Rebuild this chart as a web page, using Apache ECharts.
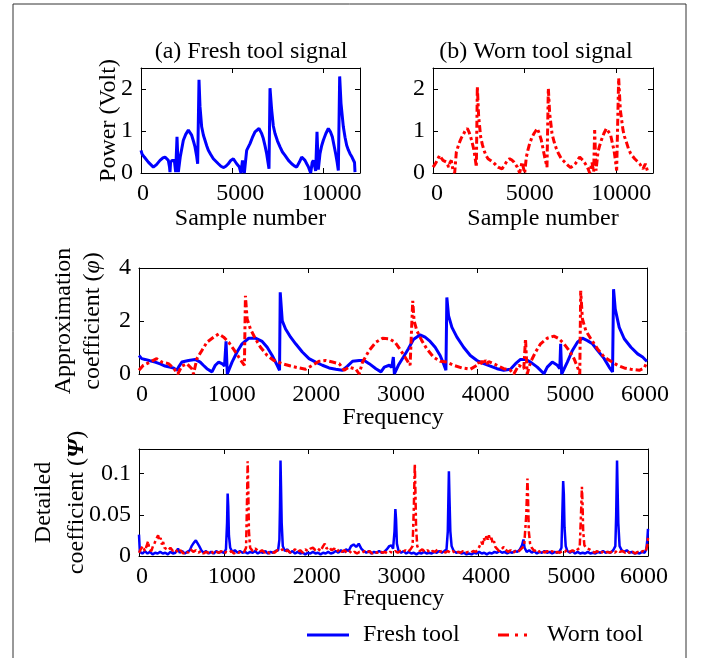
<!DOCTYPE html>
<html><head><meta charset="utf-8">
<script src="https://cdn.jsdelivr.net/npm/echarts@6/dist/echarts.min.js"></script>
<style>html,body{margin:0;padding:0;background:#fff}#c{width:704px;height:658px}</style>
</head><body><div id="c"></div>
<script>
// ---------- data ----------
const freshSignal = [[0,0.54],[60,0.45],[180,0.38],[400,0.26],[676,0.14],[850,0.2],[1041,0.30],[1200,0.36],[1315,0.38],[1420,0.34],[1498,0.30],[1560,0.15],[1589,0.02],[1620,0.25],[1700,0.30],[1826,0.30],[1900,0.02],[1973,0.86],[2046,0.02],[2150,0.38],[2320,0.78],[2450,0.92],[2594,1.02],[2680,0.98],[2776,0.90],[2880,0.75],[2959,0.62],[3050,0.40],[3105,0.22],[3178,2.22],[3233,1.58],[3324,1.10],[3420,0.90],[3507,0.78],[3600,0.65],[3689,0.54],[3820,0.44],[3963,0.34],[4100,0.28],[4237,0.22],[4380,0.16],[4511,0.13],[4650,0.16],[4785,0.22],[4920,0.30],[5059,0.34],[5150,0.30],[5242,0.22],[5380,0.15],[5479,0.0],[5560,0.30],[5662,0.0],[5790,0.54],[5973,0.70],[6100,0.84],[6247,0.98],[6466,1.06],[6600,0.95],[6703,0.82],[6800,0.64],[6886,0.46],[6960,0.25],[7014,0.10],[7069,2.02],[7160,1.50],[7250,1.12],[7343,0.94],[7480,0.76],[7617,0.62],[7750,0.50],[7890,0.42],[8080,0.30],[8256,0.22],[8400,0.17],[8530,0.14],[8680,0.26],[8804,0.38],[8900,0.35],[8986,0.30],[9080,0.22],[9169,0.15],[9297,0.0],[9380,0.25],[9443,0.30],[9520,0.15],[9571,0.05],[9644,0.98],[9717,0.08],[9808,0.46],[9900,0.65],[9991,0.78],[10130,0.94],[10265,1.06],[10380,0.98],[10484,0.86],[10580,0.65],[10667,0.46],[10750,0.25],[10813,0.06],[10886,2.30],[10959,1.66],[11087,1.10],[11180,0.85],[11269,0.66],[11360,0.55],[11452,0.46],[11560,0.38],[11635,0.34],[11700,0.25],[11726,0.02]];

const wornSignal = [[0,0.14],[100,0.2],[182,0.26],[280,0.35],[364,0.42],[450,0.36],[545,0.30],[640,0.28],[727,0.26],[800,0.2],[855,0.14],[930,0.25],[1000,0.30],[1091,0.06],[1182,0.0],[1273,0.50],[1360,0.62],[1455,0.74],[1550,0.84],[1636,0.90],[1750,1.0],[1873,1.06],[1960,0.98],[2055,0.86],[2150,0.70],[2236,0.54],[2300,0.35],[2364,0.14],[2418,2.06],[2491,1.34],[2600,0.86],[2690,0.68],[2782,0.54],[2890,0.42],[3000,0.34],[3140,0.30],[3273,0.26],[3410,0.20],[3545,0.14],[3650,0.12],[3764,0.10],[3860,0.16],[3945,0.22],[4060,0.30],[4182,0.34],[4300,0.31],[4418,0.26],[4510,0.2],[4600,0.14],[4727,0.0],[4855,0.26],[5000,0.0],[5091,0.38],[5180,0.55],[5273,0.70],[5390,0.84],[5509,0.94],[5600,1.0],[5691,1.06],[5800,0.94],[5909,0.78],[6000,0.58],[6091,0.38],[6160,0.25],[6218,0.14],[6291,2.02],[6364,1.42],[6491,0.94],[6600,0.75],[6727,0.58],[6860,0.45],[7000,0.34],[7140,0.28],[7273,0.22],[7390,0.17],[7509,0.13],[7640,0.17],[7764,0.22],[7880,0.30],[8000,0.38],[8100,0.34],[8182,0.30],[8280,0.24],[8364,0.18],[8460,0.10],[8545,0.0],[8673,0.25],[8764,0.03],[8818,1.02],[8891,0.06],[9000,0.50],[9090,0.65],[9182,0.78],[9320,0.94],[9455,1.06],[9580,0.98],[9691,0.90],[9780,0.72],[9873,0.54],[9950,0.30],[10018,0.06],[10127,2.26],[10218,1.50],[10364,1.02],[10450,0.86],[10545,0.74],[10660,0.58],[10782,0.46],[10890,0.40],[11000,0.34],[11140,0.28],[11273,0.22],[11360,0.16],[11455,0.10],[11582,0.22],[11691,0.06]];

const freshApprox = [[0,0.70],[32,0.58],[71,0.55],[130,0.50],[190,0.45],[250,0.38],[308,0.30],[360,0.26],[407,0.23],[447,0.14],[475,0.3],[506,0.45],[585,0.51],[664,0.55],[723,0.45],[760,0.33],[802,0.20],[862,0.08],[901,0.33],[941,0.45],[985,0.38],[1010,0.30],[1028,1.23],[1043,0.0],[1099,0.45],[1158,0.83],[1217,1.14],[1296,1.35],[1375,1.35],[1455,1.23],[1514,1.01],[1573,0.70],[1632,0.33],[1660,0.14],[1668,3.08],[1692,2.01],[1731,1.70],[1791,1.39],[1850,1.14],[1929,0.83],[2008,0.58],[2087,0.45],[2166,0.33],[2245,0.23],[2324,0.18],[2403,0.14],[2462,0.30],[2522,0.48],[2601,0.51],[2660,0.51],[2719,0.39],[2798,0.20],[2858,0.08],[2897,0.26],[2956,0.33],[2985,0.25],[3004,0.64],[3016,0.0],[3063,0.33],[3123,0.64],[3182,0.95],[3241,1.30],[3320,1.48],[3379,1.39],[3439,1.23],[3498,1.01],[3557,0.70],[3597,0.39],[3625,0.14],[3636,2.89],[3656,2.20],[3696,1.76],[3755,1.39],[3834,1.01],[3913,0.70],[3992,0.51],[4071,0.39],[4150,0.30],[4229,0.20],[4308,0.14],[4387,0.18],[4447,0.39],[4506,0.55],[4565,0.55],[4625,0.45],[4704,0.26],[4783,0.01],[4822,0.26],[4881,0.45],[4941,0.33],[4970,0.20],[4980,1.14],[4992,0.0],[5059,0.45],[5119,0.89],[5178,1.20],[5237,1.35],[5296,1.26],[5356,1.14],[5415,0.89],[5494,0.58],[5553,0.26],[5593,0.08],[5605,3.20],[5625,2.45],[5672,1.76],[5731,1.33],[5810,1.01],[5889,0.76],[5948,0.64],[5988,0.51],[6000,0.48]];

const wornApprox = [[0,0.14],[51,0.33],[130,0.45],[209,0.58],[269,0.45],[348,0.39],[407,0.23],[458,0.0],[506,0.30],[565,0.39],[625,0.20],[644,0.0],[684,0.58],[743,0.89],[802,1.20],[881,1.39],[941,1.51],[1000,1.39],[1059,1.20],[1119,0.93],[1178,0.64],[1217,0.45],[1245,0.33],[1257,2.95],[1277,2.08],[1316,1.70],[1375,1.33],[1435,1.01],[1514,0.70],[1593,0.51],[1692,0.39],[1791,0.30],[1889,0.23],[1968,0.18],[2047,0.33],[2126,0.48],[2206,0.51],[2285,0.45],[2364,0.39],[2423,0.14],[2482,0.26],[2561,0.18],[2601,0.0],[2640,0.45],[2719,0.89],[2798,1.20],[2877,1.35],[2956,1.33],[3024,1.20],[3083,0.93],[3142,0.64],[3202,0.33],[3221,0.30],[3233,2.76],[3249,2.01],[3281,1.64],[3340,1.26],[3399,0.95],[3478,0.64],[3557,0.48],[3636,0.45],[3715,0.33],[3814,0.23],[3913,0.18],[3992,0.33],[4010,0.45],[4030,0.32],[4050,0.50],[4070,0.36],[4090,0.52],[4110,0.38],[4130,0.47],[4150,0.40],[4229,0.33],[4308,0.20],[4387,0.14],[4427,0.0],[4486,0.33],[4545,0.20],[4565,1.33],[4585,0.0],[4625,0.45],[4684,0.83],[4743,1.14],[4822,1.35],[4901,1.43],[4960,1.33],[5020,1.14],[5079,0.89],[5138,0.58],[5186,0.20],[5206,0.0],[5217,3.14],[5237,2.08],[5277,1.64],[5336,1.33],[5415,0.95],[5494,0.64],[5573,0.48],[5652,0.33],[5731,0.23],[5810,0.18],[5909,0.14],[5968,0.23],[6000,0.45]];

const freshDetail = [[0,0.026],[10,0.005],[40,0.003],[70,0.006],[100,0.003],[130,0.005],[160,0.002],[190,0.004],[220,0.003],[250,0.005],[280,0.003],[310,0.004],[340,0.002],[370,0.005],[400,0.003],[430,0.004],[460,0.009],[480,0.004],[510,0.006],[540,0.003],[570,0.005],[600,0.007],[620,0.012],[645,0.016],[670,0.019],[690,0.017],[710,0.012],[735,0.007],[760,0.004],[790,0.006],[820,0.003],[850,0.005],[880,0.003],[910,0.006],[940,0.004],[970,0.005],[1000,0.004],[1025,0.008],[1038,0.04],[1045,0.076],[1052,0.06],[1060,0.025],[1075,0.01],[1100,0.005],[1130,0.007],[1160,0.004],[1190,0.006],[1220,0.004],[1250,0.005],[1280,0.003],[1310,0.005],[1340,0.004],[1370,0.006],[1400,0.003],[1430,0.005],[1460,0.004],[1490,0.006],[1520,0.003],[1550,0.005],[1580,0.004],[1610,0.006],[1640,0.007],[1655,0.02],[1662,0.06],[1668,0.116],[1674,0.085],[1682,0.04],[1695,0.012],[1720,0.006],[1750,0.008],[1780,0.004],[1810,0.006],[1840,0.003],[1870,0.005],[1900,0.003],[1930,0.004],[1960,0.002],[1990,0.004],[2020,0.003],[2050,0.005],[2080,0.003],[2110,0.004],[2140,0.002],[2170,0.004],[2200,0.003],[2230,0.005],[2260,0.003],[2290,0.004],[2320,0.006],[2350,0.004],[2380,0.007],[2410,0.005],[2440,0.008],[2470,0.006],[2500,0.012],[2530,0.014],[2560,0.011],[2590,0.015],[2620,0.009],[2650,0.006],[2680,0.004],[2710,0.006],[2740,0.003],[2770,0.005],[2800,0.004],[2830,0.006],[2860,0.004],[2890,0.005],[2920,0.008],[2950,0.012],[2975,0.013],[2995,0.009],[3012,0.03],[3022,0.057],[3030,0.045],[3040,0.015],[3060,0.006],[3090,0.004],[3120,0.006],[3150,0.003],[3180,0.005],[3210,0.003],[3240,0.004],[3270,0.002],[3300,0.004],[3330,0.003],[3360,0.005],[3390,0.003],[3420,0.004],[3450,0.003],[3480,0.005],[3510,0.004],[3540,0.006],[3570,0.004],[3600,0.006],[3625,0.008],[3640,0.03],[3653,0.103],[3660,0.07],[3670,0.03],[3685,0.012],[3710,0.006],[3740,0.004],[3770,0.005],[3800,0.003],[3830,0.004],[3860,0.002],[3890,0.003],[3920,0.002],[3950,0.004],[3980,0.003],[4010,0.005],[4040,0.003],[4070,0.004],[4100,0.002],[4130,0.004],[4160,0.003],[4190,0.005],[4220,0.004],[4250,0.006],[4280,0.004],[4310,0.005],[4340,0.003],[4370,0.005],[4400,0.004],[4430,0.006],[4460,0.005],[4490,0.008],[4515,0.013],[4532,0.02],[4545,0.01],[4570,0.005],[4600,0.007],[4630,0.004],[4660,0.006],[4690,0.003],[4720,0.005],[4750,0.004],[4780,0.006],[4810,0.004],[4840,0.005],[4870,0.003],[4900,0.005],[4930,0.004],[4960,0.006],[4980,0.01],[4990,0.05],[5000,0.091],[5008,0.075],[5016,0.035],[5030,0.012],[5050,0.006],[5080,0.004],[5110,0.006],[5140,0.003],[5170,0.005],[5200,0.003],[5230,0.004],[5260,0.003],[5290,0.005],[5320,0.003],[5350,0.004],[5380,0.003],[5410,0.005],[5440,0.004],[5470,0.006],[5500,0.004],[5530,0.005],[5560,0.004],[5590,0.007],[5615,0.012],[5625,0.05],[5635,0.116],[5642,0.08],[5650,0.04],[5665,0.012],[5690,0.007],[5720,0.005],[5750,0.007],[5780,0.004],[5810,0.005],[5840,0.003],[5870,0.004],[5900,0.003],[5930,0.005],[5960,0.004],[5980,0.008],[5992,0.02],[6000,0.033]];

const wornDetail = [[0,0.004],[20,0.008],[45,0.012],[70,0.006],[95,0.014],[107,0.018],[120,0.009],[145,0.006],[165,0.012],[185,0.016],[205,0.021],[225,0.025],[240,0.019],[255,0.022],[270,0.014],[285,0.017],[300,0.01],[320,0.012],[345,0.007],[370,0.01],[383,0.011],[400,0.006],[430,0.008],[460,0.004],[490,0.007],[520,0.003],[550,0.006],[580,0.004],[610,0.008],[640,0.005],[670,0.007],[700,0.004],[730,0.006],[760,0.003],[790,0.005],[820,0.004],[850,0.006],[880,0.003],[910,0.005],[940,0.004],[970,0.006],[1000,0.003],[1030,0.005],[1060,0.004],[1090,0.006],[1120,0.003],[1150,0.005],[1180,0.004],[1210,0.006],[1240,0.005],[1262,0.01],[1272,0.06],[1281,0.115],[1288,0.08],[1296,0.03],[1310,0.01],[1340,0.006],[1370,0.009],[1390,0.008],[1420,0.005],[1450,0.007],[1480,0.004],[1510,0.006],[1540,0.003],[1570,0.005],[1600,0.004],[1630,0.007],[1660,0.006],[1690,0.008],[1720,0.005],[1750,0.007],[1780,0.004],[1810,0.006],[1840,0.008],[1870,0.005],[1900,0.007],[1930,0.004],[1960,0.008],[1990,0.006],[2020,0.009],[2050,0.01],[2080,0.007],[2110,0.009],[2140,0.006],[2170,0.012],[2190,0.015],[2210,0.009],[2240,0.011],[2270,0.007],[2300,0.009],[2330,0.005],[2360,0.008],[2390,0.005],[2420,0.007],[2450,0.004],[2480,0.006],[2510,0.003],[2540,0.005],[2570,0.003],[2600,0.005],[2630,0.004],[2660,0.006],[2690,0.004],[2720,0.006],[2750,0.003],[2780,0.005],[2810,0.004],[2840,0.006],[2870,0.004],[2900,0.005],[2930,0.003],[2960,0.005],[2990,0.004],[3020,0.006],[3050,0.004],[3080,0.006],[3110,0.005],[3140,0.007],[3170,0.005],[3200,0.008],[3225,0.012],[3240,0.06],[3251,0.112],[3258,0.08],[3266,0.035],[3280,0.012],[3310,0.006],[3340,0.008],[3370,0.005],[3400,0.007],[3430,0.004],[3460,0.006],[3490,0.005],[3520,0.008],[3550,0.005],[3580,0.007],[3610,0.004],[3640,0.006],[3670,0.004],[3700,0.006],[3730,0.003],[3760,0.005],[3790,0.004],[3820,0.006],[3850,0.004],[3880,0.005],[3910,0.004],[3940,0.006],[3970,0.005],[3995,0.008],[4015,0.012],[4035,0.017],[4050,0.014],[4063,0.022],[4080,0.018],[4095,0.024],[4110,0.02],[4125,0.025],[4140,0.019],[4155,0.022],[4170,0.015],[4185,0.018],[4200,0.011],[4220,0.009],[4245,0.006],[4270,0.008],[4300,0.011],[4320,0.008],[4350,0.005],[4380,0.007],[4410,0.004],[4440,0.006],[4470,0.005],[4500,0.008],[4520,0.007],[4540,0.012],[4555,0.012],[4565,0.05],[4579,0.094],[4586,0.07],[4595,0.03],[4610,0.015],[4630,0.01],[4660,0.006],[4690,0.008],[4720,0.005],[4750,0.007],[4780,0.004],[4810,0.006],[4840,0.004],[4870,0.006],[4900,0.003],[4930,0.005],[4960,0.004],[4990,0.006],[5020,0.005],[5050,0.008],[5080,0.005],[5110,0.007],[5140,0.005],[5170,0.008],[5195,0.01],[5210,0.05],[5221,0.084],[5228,0.065],[5236,0.03],[5250,0.013],[5270,0.01],[5290,0.012],[5310,0.008],[5340,0.006],[5370,0.004],[5400,0.006],[5430,0.003],[5460,0.005],[5490,0.003],[5520,0.005],[5550,0.004],[5580,0.006],[5610,0.004],[5640,0.007],[5670,0.005],[5700,0.006],[5730,0.004],[5760,0.006],[5790,0.003],[5820,0.005],[5850,0.003],[5880,0.005],[5910,0.004],[5940,0.006],[5970,0.005],[5990,0.012],[6000,0.022]];

const seriesNames = ['Fresh tool', 'Worn tool'];
const panelTitles = ['(a) Fresh tool signal', '(b) Worn tool signal'];

// ---------- chart ----------
const FONT = 'Liberation Serif';
const BLUE = '#0000ff', RED = '#ff0000';
const RED_DASH = [7, 3, 3, 3];

const grids = [
  {left: 141, top: 68, width: 219, height: 105},
  {left: 433, top: 68, width: 220, height: 105},
  {left: 139, top: 268, width: 508, height: 106},
  {left: 139, top: 449, width: 509, height: 107}
];
// label shifts (px): first label, middle labels, last label
const xCfg = [
  {max: 12000, interval: 5000, last: null, name: 'Sample number', gap: 34, s0: 2, sm: 8, sl: 0},
  {max: 12000, interval: 5000, last: null, name: 'Sample number', gap: 34, s0: 4, sm: 5, sl: 0},
  {max: 6000, interval: 1000, last: 6000, name: 'Frequency', gap: 32, s0: 3, sm: 8, sl: -2},
  {max: 6000, interval: 1000, last: 6000, name: 'Frequency', gap: 31, s0: 3, sm: 8, sl: -4}
];
const yCfg = [
  {max: 2.5, interval: 1, name: 'Power (Volt)', gap: 18, lh: 29, up: 0},
  {max: 2.5, interval: 1, name: '', gap: 18, lh: 29, up: 0},
  {max: 4, interval: 2, name: 'Approximation\ncoefficient ({i|φ})', gap: 32, lh: 29, up: 0},
  {max: 0.13, interval: 0.05, name: 'Detailed\ncoefficient ({b|Ψ})', gap: 46, lh: 33, up: 10}
];

const axLine = {show: true, onZero: false, lineStyle: {color: '#000', width: 1}};
const axTick = {show: true, inside: true, length: 5, lineStyle: {color: '#000', width: 1}};
const baseText = {color: '#000', fontFamily: FONT, fontSize: 24};

function shiftStyle(s) {
  return Object.assign({}, baseText, {padding: s >= 0 ? [0, 0, 0, 2 * s] : [0, -2 * s, 0, 0]});
}

const xAxis = [], yAxis = [];
grids.forEach((g, i) => {
  const xc = xCfg[i], yc = yCfg[i];
  xAxis.push({type: 'value', gridIndex: i, position: 'bottom', min: 0, max: xc.max, interval: xc.interval,
    axisLine: axLine, axisTick: axTick, splitLine: {show: false},
    axisLabel: Object.assign({margin: 9, showMaxLabel: xc.last !== null,
      formatter: v => (v === 0 ? '{f|0}' : (v === xc.last ? '{l|' + v + '}' : '{m|' + v + '}')),
      rich: {f: shiftStyle(xc.s0), m: shiftStyle(xc.sm), l: shiftStyle(xc.sl)}}, baseText),
    name: xc.name, nameLocation: 'middle', nameGap: xc.gap, nameMoveOverlap: false,
    nameTextStyle: baseText});
  xAxis.push({type: 'value', gridIndex: i, position: 'top', min: 0, max: xc.max, interval: xc.interval,
    axisLine: axLine, axisTick: axTick, splitLine: {show: false}, axisLabel: {show: false}});
  yAxis.push({type: 'value', gridIndex: i, position: 'left', min: 0, max: yc.max, interval: yc.interval,
    axisLine: axLine, axisTick: axTick, splitLine: {show: false},
    axisLabel: Object.assign({margin: 8, showMaxLabel: yc.max % yc.interval === 0,
      padding: [0, 0, 2 * yc.up, 0], formatter: v => String(v)}, baseText),
    name: yc.name, nameLocation: 'middle', nameGap: yc.gap, nameRotate: 90, nameMoveOverlap: false,
    nameTextStyle: Object.assign({lineHeight: yc.lh, rich: {
        i: Object.assign({fontStyle: 'italic', lineHeight: yc.lh}, baseText),
        b: Object.assign({fontStyle: 'italic', fontWeight: 'bold', lineHeight: yc.lh}, baseText)
      }}, baseText)});
  yAxis.push({type: 'value', gridIndex: i, position: 'right', min: 0, max: yc.max, interval: yc.interval,
    axisLine: axLine, axisTick: axTick, splitLine: {show: false}, axisLabel: {show: false}});
});

function mkSeries(name, data, gi, color, dash, width) {
  return {type: 'line', name: name, data: data, xAxisIndex: gi * 2, yAxisIndex: gi * 2,
    symbol: 'none', showSymbol: false, animation: false, clip: true,
    lineStyle: {color: color, width: width, type: dash}, itemStyle: {color: color}};
}

const series = [
  mkSeries(seriesNames[0], freshSignal, 0, BLUE, 'solid', 3),
  mkSeries(seriesNames[1], wornSignal, 1, RED, RED_DASH, 3),
  mkSeries(seriesNames[0], freshApprox, 2, BLUE, 'solid', 3),
  mkSeries(seriesNames[1], wornApprox, 2, RED, RED_DASH, 3),
  mkSeries(seriesNames[0], freshDetail, 3, BLUE, 'solid', 2.5),
  mkSeries(seriesNames[1], wornDetail, 3, RED, RED_DASH, 2.5)
];

const legendText = {color: '#000', fontFamily: FONT, fontSize: 24};
const chart = echarts.init(document.getElementById('c'));
chart.setOption({
  backgroundColor: '#fff',
  animation: false,
  grid: grids.map(g => Object.assign({containLabel: false}, g)),
  xAxis: xAxis,
  yAxis: yAxis,
  series: series,
  legend: [
    {data: [{name: seriesNames[0], icon: 'path://M0 0H42V3H0Z'}], left: 307, top: 623, padding: 0,
     itemWidth: 42, itemHeight: 3, selectedMode: false,
     textStyle: Object.assign({padding: [0, 0, 0, 9]}, legendText)},
    {data: [{name: seriesNames[1], icon: 'path://M0 0H11V3H0Z M17 0H20V3H17Z M26 0H29V3H26Z'}], left: 498, top: 623, padding: 0,
     itemWidth: 29, itemHeight: 3, selectedMode: false,
     textStyle: Object.assign({padding: [0, 0, 0, 15]}, legendText)}
  ],
  graphic: [
    {type: 'rect', shape: {x: 13, y: 4, width: 673, height: 700}, style: {fill: 'none', stroke: '#333', lineWidth: 1}, silent: true},
    {type: 'text', x: 251, y: 40, style: {text: panelTitles[0], fontFamily: FONT, fontSize: 24, fill: '#000', textAlign: 'center'}},
    {type: 'text', x: 536, y: 40, style: {text: panelTitles[1], fontFamily: FONT, fontSize: 24, fill: '#000', textAlign: 'center'}}
  ]
});
</script></body></html>
